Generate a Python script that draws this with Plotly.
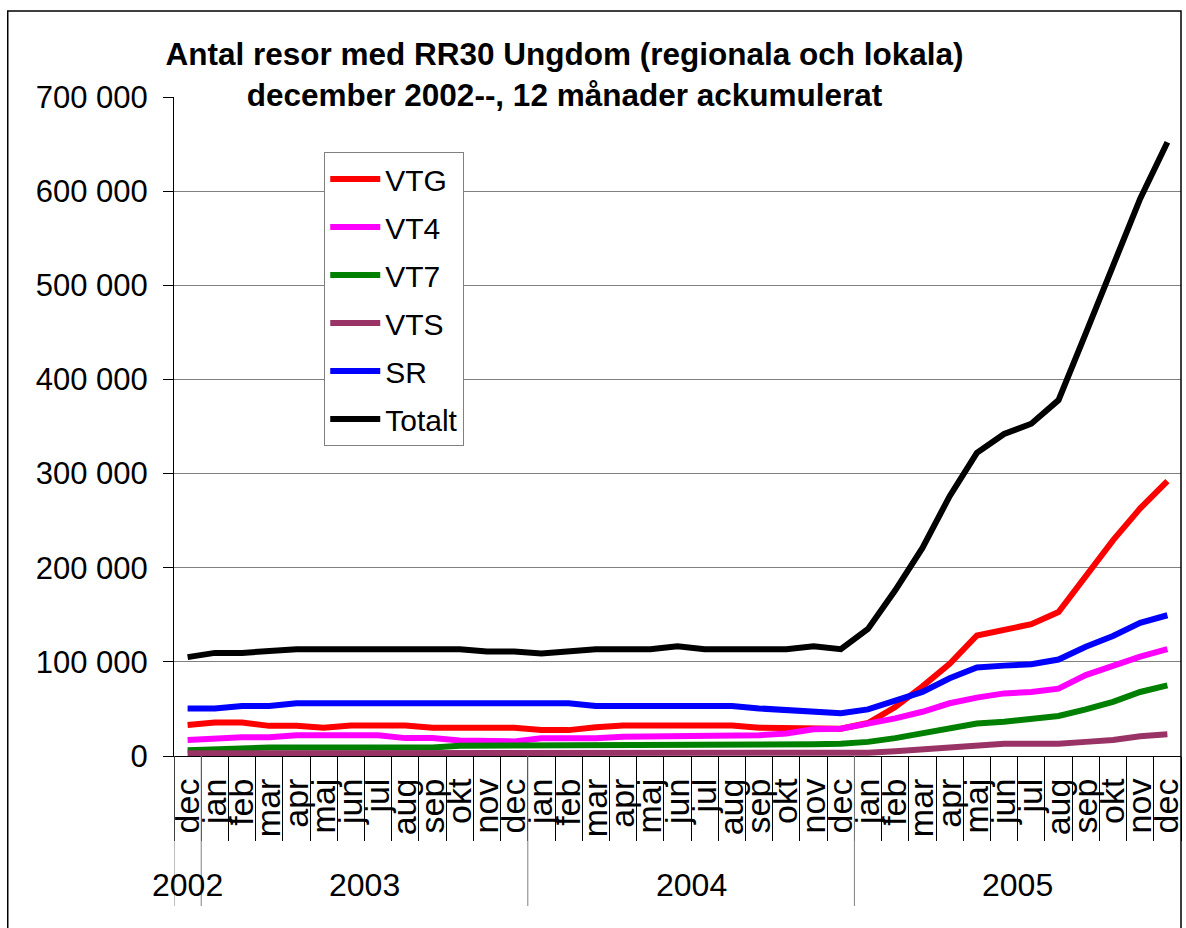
import plotly.graph_objects as go

months = ["dec"] + ["jan", "feb", "mar", "apr", "maj", "jun", "jul", "aug", "sep", "okt", "nov", "dec"] * 3
years = ["2002", "2003", "2004", "2005"]

VTG = [33000, 35500, 35500, 32000, 32000, 30000, 32500, 32500, 32500, 30000, 30000, 30000, 30000,
       27500, 27500, 30500, 32500, 32500, 32500, 32500, 32500, 30000, 30000, 29000, 29000,
       35000, 52000, 74000, 98000, 128000, 134000, 140000, 153000, 190000, 229000, 263000, 292000]
VT4 = [17000, 19000, 20000, 20000, 22000, 22000, 22000, 22000, 19000, 19000, 16500, 16500, 15500,
       18800, 18800, 18800, 20500, 20500, 20500, 20500, 20500, 22000, 24000, 28500, 29000,
       34000, 40000, 47000, 56000, 62000, 66500, 68000, 71500, 86000, 96500, 105500, 113500]
VT7 = [6000, 7000, 9000, 9000, 9000, 9000, 9000, 9000, 9000, 9000, 11000, 11000, 11000,
       11000, 11000, 11000, 12500, 12500, 12500, 12500, 12500, 12500, 12500, 12500, 13000,
       15000, 19000, 24000, 30000, 34500, 36500, 39000, 42500, 49500, 57500, 68000, 75000]
VTS = [3000, 3000, 3000, 3000, 3000, 3000, 3000, 3000, 3000, 3000, 3000, 3000, 3000,
       3000, 3000, 3000, 3000, 3000, 3000, 3000, 3000, 3000, 3000, 3000, 3000,
       3500, 5000, 7000, 9500, 10500, 13000, 13000, 13000, 15000, 17000, 21000, 23000]
SR = [50500, 50500, 53000, 53000, 56000, 56000, 56000, 56000, 56000, 56000, 56000, 56000, 56000,
      56000, 56000, 53000, 53000, 53000, 53000, 53000, 53000, 50500, 49000, 48500, 45500,
      49500, 59000, 68000, 82500, 94000, 96000, 97500, 102500, 116000, 127500, 141500, 149500]
Totalt = [105000, 109500, 109500, 111500, 113500, 113500, 113500, 113500, 113500, 113500, 113500, 111000, 111000,
          109000, 111500, 113500, 113500, 113500, 116500, 113500, 113500, 113500, 113500, 116500, 113500,
          135000, 176000, 221000, 276000, 322000, 342000, 353000, 378000, 449000, 520000, 592000, 652000]

series = [("VTG", VTG, "#FF0000"), ("VT4", VT4, "#FF00FF"), ("VT7", VT7, "#008000"),
          ("VTS", VTS, "#993366"), ("SR", SR, "#0000FF"), ("Totalt", Totalt, "#000000")]

FONT = "Liberation Sans, Arial, sans-serif"
xs = list(range(len(months)))

fig = go.Figure()
for i, (name, vals, col) in enumerate(series):
    fig.add_trace(go.Scatter(x=xs, y=vals, name=name, mode="lines",
                             line=dict(color=col, width=6), legendgroup=name))

# year grouping: index ranges
year_ranges = [(0, 0), (1, 12), (13, 24), (25, 36)]

shapes = []
annotations = []
for (a, b), yr in zip(year_ranges, years):
    annotations.append(dict(x=(a + b) / 2, y=-0.196, xref="x", yref="paper", text=yr,
                            showarrow=False, font=dict(family=FONT, size=32, color="black"),
                            xanchor="center", yanchor="middle"))
    shapes.append(dict(type="line", xref="x", yref="paper", x0=a - 0.5, x1=a - 0.5,
                       y0=0, y1=-0.2276, line=dict(color="#808080", width=1)))

# chart border
shapes.append(dict(type="rect", xref="paper", yref="paper", x0=-0.1651, x1=1.0, y0=-0.3, y1=1.1305,
                   line=dict(color="black", width=1.5), layer="above"))

fig.update_layout(
    width=1186, height=928,
    margin=dict(l=174, r=1, t=97, b=172),
    paper_bgcolor="white", plot_bgcolor="white",
    separators=", ",
    font=dict(family=FONT, color="black"),
    title=dict(text="<b>Antal resor med RR30 Ungdom (regionala och lokala)<br>december 2002--, 12 månader ackumulerat</b>",
               x=0.476, xanchor="center", y=0.93, yanchor="middle",
               font=dict(family=FONT, size=31.5, color="black")),
    showlegend=True,
    legend=dict(x=0.1492, y=0.9166, xanchor="left", yanchor="top",
                bgcolor="white", bordercolor="#808080", borderwidth=1,
                font=dict(family=FONT, size=30, color="black"),
                tracegroupgap=6, itemwidth=50),
    shapes=shapes, annotations=annotations,
)
fig.update_xaxes(range=[-0.5, 36.5], tickmode="array", tickvals=xs, ticktext=months,
                 tickangle=-90, tickfont=dict(family=FONT, size=34, color="black"),
                 ticks="outside", ticklen=8, tickcolor="rgba(0,0,0,0)", ticklabeloverflow="allow",
                 showgrid=False, showline=True, linecolor="black", linewidth=1, zeroline=False,
                 minor=dict(tickmode="array", tickvals=[k - 0.5 for k in range(len(months) + 1)],
                            ticks="outside", ticklen=84, tickcolor="black", tickwidth=1, showgrid=False))
fig.update_yaxes(range=[0, 700000], tickmode="linear", tick0=0, dtick=100000, tickformat=",d",
                 tickfont=dict(family=FONT, size=31, color="black"),
                 ticks="outside", ticklen=10, tickcolor="black", ticklabelstandoff=9,
                 showgrid=True, gridcolor="#808080", gridwidth=1,
                 showline=True, linecolor="black", linewidth=1, zeroline=False)

fig.write_html("out.html", config={"displayModeBar": False},
               post_script="document.body.style.margin='0';document.body.style.padding='0';document.body.style.overflow='hidden';")
